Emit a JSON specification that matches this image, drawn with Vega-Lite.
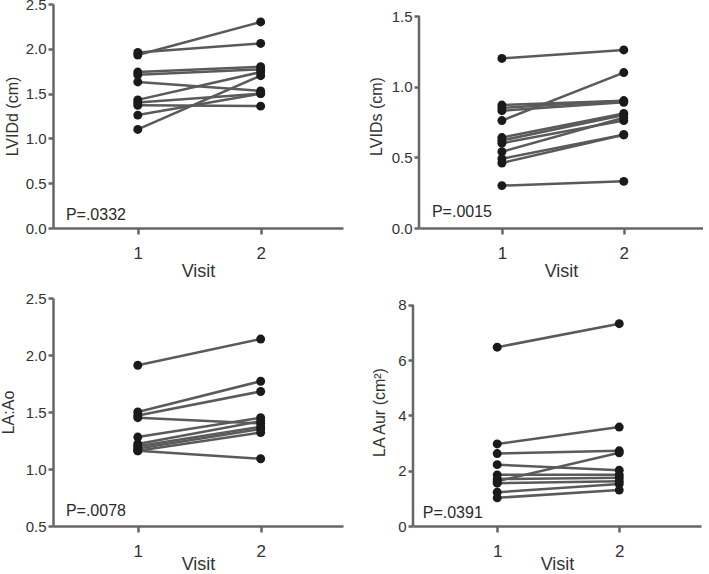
{
  "$schema": "https://vega.github.io/schema/vega-lite/v6.json",
  "padding": {"left": 0, "top": -3, "right": 0, "bottom": 0},
  "background": "white",
  "config": {
    "font": "Liberation Sans",
    "view": {"stroke": null},
    "axis": {"grid": false, "domainColor": "#666666", "domainWidth": 2.5, "tickColor": "#666666", "tickWidth": 2.5, "labelColor": "#333333", "titleColor": "#333333", "titleFontWeight": "normal", "labelFont": "Liberation Sans", "titleFont": "Liberation Sans"},
    "axisX": {"labelFontSize": 17, "titleFontSize": 18, "tickSize": 6, "labelPadding": 11, "titlePadding": 1},
    "axisY": {"labelFontSize": 15, "titleFontSize": 16, "tickSize": 5, "labelPadding": 2}
  },
  "datasets": {
    "lvidd": [
      {"id": 1, "visit": 1, "value": 1.93}, {"id": 1, "visit": 2, "value": 2.30},
      {"id": 2, "visit": 1, "value": 1.96}, {"id": 2, "visit": 2, "value": 2.06},
      {"id": 3, "visit": 1, "value": 1.74}, {"id": 3, "visit": 2, "value": 1.80},
      {"id": 4, "visit": 1, "value": 1.71}, {"id": 4, "visit": 2, "value": 1.77},
      {"id": 5, "visit": 1, "value": 1.63}, {"id": 5, "visit": 2, "value": 1.53},
      {"id": 6, "visit": 1, "value": 1.43}, {"id": 6, "visit": 2, "value": 1.74},
      {"id": 7, "visit": 1, "value": 1.40}, {"id": 7, "visit": 2, "value": 1.50},
      {"id": 8, "visit": 1, "value": 1.37}, {"id": 8, "visit": 2, "value": 1.36},
      {"id": 9, "visit": 1, "value": 1.26}, {"id": 9, "visit": 2, "value": 1.50},
      {"id": 10, "visit": 1, "value": 1.10}, {"id": 10, "visit": 2, "value": 1.70}
    ],
    "lvids": [
      {"id": 1, "visit": 1, "value": 1.20}, {"id": 1, "visit": 2, "value": 1.26},
      {"id": 2, "visit": 1, "value": 0.76}, {"id": 2, "visit": 2, "value": 1.10},
      {"id": 3, "visit": 1, "value": 0.87}, {"id": 3, "visit": 2, "value": 0.90},
      {"id": 4, "visit": 1, "value": 0.85}, {"id": 4, "visit": 2, "value": 0.90},
      {"id": 5, "visit": 1, "value": 0.83}, {"id": 5, "visit": 2, "value": 0.89},
      {"id": 6, "visit": 1, "value": 0.64}, {"id": 6, "visit": 2, "value": 0.81},
      {"id": 7, "visit": 1, "value": 0.62}, {"id": 7, "visit": 2, "value": 0.80},
      {"id": 8, "visit": 1, "value": 0.60}, {"id": 8, "visit": 2, "value": 0.76},
      {"id": 9, "visit": 1, "value": 0.54}, {"id": 9, "visit": 2, "value": 0.78},
      {"id": 10, "visit": 1, "value": 0.49}, {"id": 10, "visit": 2, "value": 0.66},
      {"id": 11, "visit": 1, "value": 0.46}, {"id": 11, "visit": 2, "value": 0.66},
      {"id": 12, "visit": 1, "value": 0.30}, {"id": 12, "visit": 2, "value": 0.33}
    ],
    "laao": [
      {"id": 1, "visit": 1, "value": 1.91}, {"id": 1, "visit": 2, "value": 2.14},
      {"id": 2, "visit": 1, "value": 1.50}, {"id": 2, "visit": 2, "value": 1.77},
      {"id": 3, "visit": 1, "value": 1.47}, {"id": 3, "visit": 2, "value": 1.68},
      {"id": 4, "visit": 1, "value": 1.45}, {"id": 4, "visit": 2, "value": 1.40},
      {"id": 5, "visit": 1, "value": 1.28}, {"id": 5, "visit": 2, "value": 1.45},
      {"id": 6, "visit": 1, "value": 1.22}, {"id": 6, "visit": 2, "value": 1.42},
      {"id": 7, "visit": 1, "value": 1.20}, {"id": 7, "visit": 2, "value": 1.37},
      {"id": 8, "visit": 1, "value": 1.18}, {"id": 8, "visit": 2, "value": 1.35},
      {"id": 9, "visit": 1, "value": 1.16}, {"id": 9, "visit": 2, "value": 1.32},
      {"id": 10, "visit": 1, "value": 1.16}, {"id": 10, "visit": 2, "value": 1.09}
    ],
    "laaur": [
      {"id": 1, "visit": 1, "value": 6.47}, {"id": 1, "visit": 2, "value": 7.32},
      {"id": 2, "visit": 1, "value": 2.97}, {"id": 2, "visit": 2, "value": 3.58},
      {"id": 3, "visit": 1, "value": 2.62}, {"id": 3, "visit": 2, "value": 2.72},
      {"id": 4, "visit": 1, "value": 2.22}, {"id": 4, "visit": 2, "value": 2.02},
      {"id": 5, "visit": 1, "value": 1.62}, {"id": 5, "visit": 2, "value": 2.65},
      {"id": 6, "visit": 1, "value": 1.85}, {"id": 6, "visit": 2, "value": 1.85},
      {"id": 7, "visit": 1, "value": 1.70}, {"id": 7, "visit": 2, "value": 1.75},
      {"id": 8, "visit": 1, "value": 1.55}, {"id": 8, "visit": 2, "value": 1.62},
      {"id": 9, "visit": 1, "value": 1.22}, {"id": 9, "visit": 2, "value": 1.52},
      {"id": 10, "visit": 1, "value": 1.02}, {"id": 10, "visit": 2, "value": 1.30}
    ]
  },
  "vconcat": [
    {
      "hconcat": [
        {
          "width": 290, "height": 224,
          "layer": [
            {"data": {"name": "lvidd"}, "mark": {"type": "line", "color": "#5a5a5a", "strokeWidth": 2.5},
             "encoding": {
               "x": {"field": "visit", "type": "quantitative", "scale": {"domain": [0.31, 2.67], "nice": false}, "axis": {"title": "Visit", "values": [1, 2], "format": "d"}},
               "y": {"field": "value", "type": "quantitative", "scale": {"domain": [0, 2.5], "nice": false}, "axis": {"title": "LVIDd (cm)", "values": [0, 0.5, 1, 1.5, 2, 2.5], "format": ".1f", "titlePadding": 5}},
               "detail": {"field": "id"}}},
            {"data": {"name": "lvidd"}, "mark": {"type": "point", "filled": true, "color": "#1a1a1a", "opacity": 1, "size": 80},
             "encoding": {"x": {"field": "visit", "type": "quantitative"}, "y": {"field": "value", "type": "quantitative"}}},
            {"data": {"values": [{"p": "P=.0332"}]}, "mark": {"type": "text", "align": "left", "baseline": "middle", "fontSize": 16, "color": "#2a2a2a"},
             "encoding": {"x": {"datum": 0.415, "type": "quantitative"}, "y": {"datum": 0.14, "type": "quantitative"}, "text": {"field": "p"}}}
          ]
        },
        {
          "width": 284, "height": 224,
          "layer": [
            {"data": {"name": "lvids"}, "mark": {"type": "line", "color": "#5a5a5a", "strokeWidth": 2.5},
             "encoding": {
               "x": {"field": "visit", "type": "quantitative", "scale": {"domain": [0.32, 2.65], "nice": false}, "axis": {"title": "Visit", "values": [1, 2], "format": "d"}},
               "y": {"field": "value", "type": "quantitative", "scale": {"domain": [0, 1.585], "nice": false}, "axis": {"title": "LVIDs (cm)", "values": [0, 0.5, 1, 1.5], "format": ".1f", "titlePadding": 7, "domain": false}},
               "detail": {"field": "id"}}},
            {"data": {"name": "lvids"}, "mark": {"type": "point", "filled": true, "color": "#1a1a1a", "opacity": 1, "size": 80},
             "encoding": {"x": {"field": "visit", "type": "quantitative"}, "y": {"field": "value", "type": "quantitative"}}},
            {"data": {"values": [{}]}, "mark": {"type": "rule", "color": "#666666", "strokeWidth": 2.5},
             "encoding": {"x": {"datum": 0.32, "type": "quantitative"}, "y": {"datum": 0, "type": "quantitative"}, "y2": {"datum": 1.5}}},
            {"data": {"values": [{"p": "P=.0015"}]}, "mark": {"type": "text", "align": "left", "baseline": "middle", "fontSize": 16, "color": "#2a2a2a"},
             "encoding": {"x": {"datum": 0.426, "type": "quantitative"}, "y": {"datum": 0.113, "type": "quantitative"}, "text": {"field": "p"}}}
          ]
        }
      ],
      "spacing": 25
    },
    {
      "hconcat": [
        {
          "width": 290, "height": 228,
          "layer": [
            {"data": {"name": "laao"}, "mark": {"type": "line", "color": "#5a5a5a", "strokeWidth": 2.5},
             "encoding": {
               "x": {"field": "visit", "type": "quantitative", "scale": {"domain": [0.31, 2.67], "nice": false}, "axis": {"title": "Visit", "values": [1, 2], "format": "d", "titlePadding": -4}},
               "y": {"field": "value", "type": "quantitative", "scale": {"domain": [0.5, 2.5], "nice": false}, "axis": {"title": "LA:Ao", "values": [0.5, 1, 1.5, 2, 2.5], "format": ".1f", "titlePadding": 9}},
               "detail": {"field": "id"}}},
            {"data": {"name": "laao"}, "mark": {"type": "point", "filled": true, "color": "#1a1a1a", "opacity": 1, "size": 80},
             "encoding": {"x": {"field": "visit", "type": "quantitative"}, "y": {"field": "value", "type": "quantitative"}}},
            {"data": {"values": [{"p": "P=.0078"}]}, "mark": {"type": "text", "align": "left", "baseline": "middle", "fontSize": 16, "color": "#2a2a2a"},
             "encoding": {"x": {"datum": 0.415, "type": "quantitative"}, "y": {"datum": 0.634, "type": "quantitative"}, "text": {"field": "p"}}}
          ]
        },
        {
          "width": 288, "height": 228,
          "layer": [
            {"data": {"name": "laaur"}, "mark": {"type": "line", "color": "#5a5a5a", "strokeWidth": 2.5},
             "encoding": {
               "x": {"field": "visit", "type": "quantitative", "scale": {"domain": [0.31, 2.67], "nice": false}, "axis": {"title": "Visit", "values": [1, 2], "format": "d", "titlePadding": -4}},
               "y": {"field": "value", "type": "quantitative", "scale": {"domain": [0, 8.25], "nice": false}, "axis": {"title": "LA Aur (cm²)", "values": [0, 2, 4, 6, 8], "format": "d", "titlePadding": 10, "domain": false}},
               "detail": {"field": "id"}}},
            {"data": {"name": "laaur"}, "mark": {"type": "point", "filled": true, "color": "#1a1a1a", "opacity": 1, "size": 80},
             "encoding": {"x": {"field": "visit", "type": "quantitative"}, "y": {"field": "value", "type": "quantitative"}}},
            {"data": {"values": [{}]}, "mark": {"type": "rule", "color": "#666666", "strokeWidth": 2.5},
             "encoding": {"x": {"datum": 0.31, "type": "quantitative"}, "y": {"datum": 0, "type": "quantitative"}, "y2": {"datum": 8}}},
            {"data": {"values": [{"p": "P=.0391"}]}, "mark": {"type": "text", "align": "left", "baseline": "middle", "fontSize": 16, "color": "#2a2a2a"},
             "encoding": {"x": {"datum": 0.39, "type": "quantitative"}, "y": {"datum": 0.48, "type": "quantitative"}, "text": {"field": "p"}}}
          ]
        }
      ],
      "spacing": 28
    }
  ],
  "spacing": 11
}
